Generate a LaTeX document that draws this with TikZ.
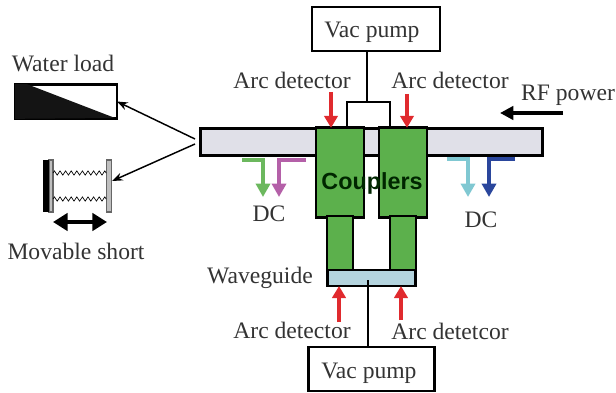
\documentclass[tikz,border=0pt]{standalone}
\usepackage{fontspec}
\setmainfont{Liberation Serif}
\newfontfamily\couplerfont{Liberation Sans}
\usepackage{tikz}
\usetikzlibrary{arrows.meta,decorations.pathmorphing}
\definecolor{barfill}{HTML}{E0E0E8}
\definecolor{couplerfill}{HTML}{5CB04C}
\definecolor{guidefill}{HTML}{B4D4DE}
\definecolor{arcred}{HTML}{E02A2E}
\definecolor{dcgreen}{HTML}{6CB85E}
\definecolor{dcpurple}{HTML}{B460A8}
\definecolor{dccyan}{HTML}{80C8D2}
\definecolor{dcblue}{HTML}{2A469C}
\tikzset{
  lbl/.style={font=\fontsize{17.7}{19}\selectfont,text=black!80,inner sep=0pt},
  part/.style={draw=black,line width=2.1pt,outer sep=0pt,inner sep=0pt},
  arc/.style={arcred,line width=3.4pt,-{Triangle[width=10pt,length=9pt]}},
  dc/.style={line width=3.4pt,-{Triangle[width=10.5pt,length=10pt]}},
  thin arrow/.style={line width=1.1pt,-{Stealth[length=8pt,width=6pt]}},
  spring/.style={line width=0.5pt,decorate,decoration={zigzag,amplitude=1.6pt,segment length=4.2pt}},
}
\begin{document}
\begin{tikzpicture}[x=0.75pt,y=-0.75pt]
  \useasboundingbox (0,0) rectangle (616,392);
  % pumps and the line between them
  \node[part,minimum width=96pt,minimum height=33pt] (pumptop) at (376,29) {};
  \node[part,minimum width=94pt,minimum height=33pt] (pumpbot) at (371.5,369) {};
  \coordinate (teetop) at (367,102);
  \coordinate (teeleft) at (347,102);
  \coordinate (teeright) at (390,102);
  \coordinate (teeleftb) at (347,128);
  \coordinate (teerightb) at (390,128);
  \draw[line width=2.1pt] (pumptop.south -| teetop) -- (teetop);
  \draw[line width=2.1pt] (teeleftb) -- (teeleft) -- (teeright) -- (teerightb);
  % main bar
  \node[part,fill=barfill,minimum width=257pt,minimum height=20.5pt] (mainbar) at (371.5,142) {};
  % couplers
  \node[part,fill=couplerfill,minimum width=36pt,minimum height=67pt] (cplleft) at (340,172.5) {};
  \node[part,fill=couplerfill,minimum width=36pt,minimum height=67pt] (cplright) at (403,172.5) {};
  \node[part,fill=couplerfill,minimum width=19.5pt,minimum height=42pt] (stubleft) at (340,244) {};
  \node[part,fill=couplerfill,minimum width=19.5pt,minimum height=42pt] (stubright) at (403,244) {};
  \node[part,fill=guidefill,minimum width=66.5pt,minimum height=12pt] (guide) at (371.5,278) {};
  \coordinate (guidein) at (368,280);
  \draw[line width=2.1pt] (guidein) -- (guidein |- pumpbot.north);
  \node[inner sep=0pt,font=\couplerfont\bfseries\fontsize{17.5}{19}\selectfont,text=black!85!green] (couplers) at (372,183) {Couplers};
  % labels
  \node[lbl] (vactop) at (372,32) {Vac pump};
  \node[lbl] (vacbot) at (369,373) {Vac pump};
  \node[lbl] (arcone) at (292,80) {Arc detector};
  \node[lbl] (arctwo) at (450,80) {Arc detector};
  \node[lbl] (arcthree) at (292,330) {Arc detector};
  \node[lbl] (arcfour) at (450,331) {Arc detetcor};
  \node[lbl] (rfpower) at (568,95) {RF power};
  \node[lbl] (guidelbl) at (260,278) {Waveguide};
  \node[lbl] (dcleft) at (269,214) {DC};
  \node[lbl] (dcright) at (481,220) {DC};
  \node[lbl] (waterlbl) at (63,63) {Water load};
  \node[lbl] (shortlbl) at (76,251) {Movable short};
  % arc detector arrows
  \coordinate (arconefrom) at (331,92);
  \coordinate (arctwofrom) at (407,94);
  \coordinate (arcthreefrom) at (339,322);
  \coordinate (arcfourfrom) at (401,320);
  \draw[arc] (arconefrom) -- (arconefrom |- cplleft.north);
  \draw[arc] (arctwofrom) -- (arctwofrom |- cplright.north);
  \draw[arc] (arcthreefrom) -- (arcthreefrom |- guide.south);
  \draw[arc] (arcfourfrom) -- (arcfourfrom |- guide.south);
  % rf power
  \coordinate (rffrom) at (563,113);
  \coordinate (rfto) at (500,113);
  \draw[line width=3.4pt,-{Triangle[width=10pt,length=10pt]}] (rffrom) -- (rfto);
  % dc taps
  \coordinate (tapa) at (242,160); \coordinate (tapaend) at (263,197);
  \coordinate (tapb) at (306,160); \coordinate (tapbend) at (279,197);
  \coordinate (tapc) at (447,159); \coordinate (tapcend) at (468,197);
  \coordinate (tapd) at (515,159); \coordinate (tapdend) at (489,197);
  \draw[dc,dcgreen] (tapa) -| (tapaend);
  \draw[dc,dcpurple] (tapb) -| (tapbend);
  \draw[dc,dccyan] (tapc) -| (tapcend);
  \draw[dc,dcblue] (tapd) -| (tapdend);
  % water load
  \node[part,minimum width=76.5pt,minimum height=26pt] (waterload) at (66,101.5) {};
  \fill[black!92] (waterload.north west) -- ++(12,0) -- (115,118) -- (waterload.south west) -- cycle;
  % movable short
  \node[draw=black!60,fill=black!25,line width=0.8pt,minimum width=3pt,minimum height=39pt,inner sep=0pt,outer sep=0pt] (plateback) at (51,186) {};
  \node[fill=black,minimum width=4.5pt,minimum height=39pt,inner sep=0pt,outer sep=0pt] (plateblack) at (46,186) {};
  \node[draw=black!60,fill=black!25,line width=0.8pt,minimum width=4pt,minimum height=39pt,inner sep=0pt,outer sep=0pt] (platefront) at (109,186) {};
  \coordinate (springa) at (53,173); \coordinate (springb) at (53,199);
  \draw[spring] (springa) -- (springa -| platefront.west);
  \draw[spring] (springb) -- (springb -| platefront.west);
  \coordinate (movea) at (53,222); \coordinate (moveb) at (107,222);
  \draw[line width=3.4pt,{Triangle[width=13pt,length=11pt]}-{Triangle[width=13pt,length=11pt]}] (movea) -- (moveb);
  % arrows from the bar end
  \coordinate (barouta) at (195,139);
  \coordinate (baroutb) at (195,144);
  \coordinate (shortin) at (112,181);
  \draw[thin arrow] (barouta) -- (waterload.east);
  \draw[thin arrow] (baroutb) -- (shortin);
\end{tikzpicture}
\end{document}
